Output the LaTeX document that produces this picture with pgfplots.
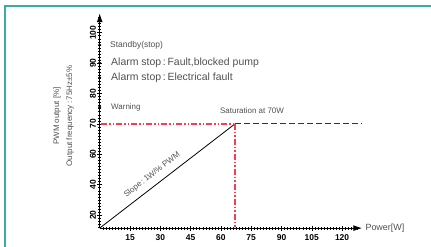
\documentclass[border=0pt]{standalone}
\usepackage{pgfplots}
\pgfplotsset{compat=1.18}
\usepackage{fontspec}
\setmainfont{Liberation Sans}
\usetikzlibrary{arrows.meta}
\definecolor{frameteal}{RGB}{58,172,162}
\definecolor{satred}{RGB}{250,60,80}
\definecolor{txt}{RGB}{80,80,80}
\begin{document}
\begin{tikzpicture}[x=1bp,y=1bp]
\useasboundingbox (0,0) rectangle (431,247);
\draw[frameteal, line width=2bp] (5.5,-10) rectangle (445,241);
\node[rotate=90, text=txt, font=\fontsize{8}{9}\selectfont] at (57,131) {PWM output [\%]};
\node[rotate=90, text=txt, font=\fontsize{8}{9}\selectfont] at (70,131) {Output frequency\,:\,75Hz±5\%};
\begin{axis}[
  at={(99.7bp,18.9bp)}, anchor=south west,
  scale only axis, width=262.6bp, height=214.9bp,
  xmin=0, xmax=130, ymin=0.57, ymax=7.64,
  clip=false,
  axis lines=left,
  axis line style={black, line width=1.1pt, -{Latex[length=9bp,width=6bp]}},
  xtick={15,30,45,60,75,90,105,120},
  minor xtick={1.5,3,...,127.5},
  ytick={1,2,3,4,5,6,7},
  yticklabels={20,40,60,70,80,90,100},
  minor ytick={0.6,0.7,...,7.5},
  tick align=center,
  major tick length=5bp, minor tick length=3bp,
  tick style={black, line width=0.6pt},
  minor tick style={black, line width=0.4pt},
  /pgf/number format/assume math mode=true,
  ticklabel style={font=\fontsize{8.5}{9}\selectfont\bfseries},
  yticklabel style={rotate=90, anchor=south, inner sep=1bp},
  xticklabel style={anchor=north, inner sep=1bp, yshift=-3bp},
]
\addplot[black, line width=0.8pt] coordinates {(0,0.57) (67,4)};
\addplot[color=black!80, line width=1.3bp, dash pattern=on 6bp off 3bp] coordinates {(67,4) (130,4)};
\addplot[only marks, mark=*, mark size=1.3bp, black] coordinates {(0,6.59) (0,6.0) (0,5.52) (0,4.55)};
\node[anchor=west, text=txt, font=\fontsize{8.5}{10}\selectfont, inner sep=0] at (axis cs:5.1,6.59) {Standby(stop)};
\node[anchor=west, text=txt, font=\fontsize{10.5}{12}\selectfont, inner sep=0] at (axis cs:5.6,6.0) {Alarm stop\,:\,Fault,blocked pump};
\node[anchor=west, text=txt, font=\fontsize{10.5}{12}\selectfont, inner sep=0] at (axis cs:5.6,5.52) {Alarm stop\,:\,Electrical fault};
\node[anchor=west, text=txt, font=\fontsize{8}{9}\selectfont, inner sep=0] at (axis cs:5.6,4.55) {Warning};
\node[text=txt, font=\fontsize{8}{9}\selectfont, inner sep=0] at (axis cs:75.4,4.42) {Saturation at 70W};
\node[text=txt, font=\fontsize{8}{9}\selectfont, inner sep=0, rotate=37.6] at (axis cs:25.9,2.32) {Slope\,:\,1W/\% PWM};
\node[anchor=west, text=txt, font=\fontsize{9}{10}\selectfont, inner sep=0] at (axis cs:131.5,0.57) {Power[W]};
\addplot[draw=satred, line width=1.4bp, dash pattern=on 6bp off 2bp on 1.5bp off 2bp on 1.5bp off 2bp] coordinates {(0.8,4.0) (67,4.0)};
\addplot[draw=satred, line width=1.4bp, dash pattern=on 6bp off 2bp on 1.5bp off 2bp on 1.5bp off 2bp] coordinates {(67,4.0) (67,0.57)};
\end{axis}
\end{tikzpicture}
\end{document}
